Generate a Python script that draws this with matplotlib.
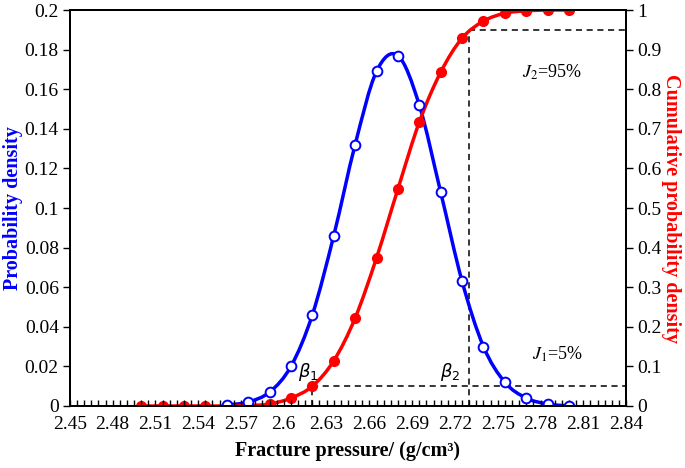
import numpy as np
import matplotlib
matplotlib.use('Agg')
import matplotlib.pyplot as plt
from matplotlib.path import Path
from matplotlib.patches import PathPatch
from matplotlib.ticker import MultipleLocator, FormatStrFormatter

plt.rcParams['font.family'] = ['Liberation Serif', 'DejaVu Sans']

# fracture pressure samples (g/cm3)
x_cdf = [2.50, 2.515, 2.53, 2.545, 2.56, 2.575, 2.59, 2.605, 2.62, 2.635, 2.65,
         2.665, 2.68, 2.695, 2.71, 2.725, 2.74, 2.755, 2.77, 2.785, 2.80]
cdf = [0.0, 0.0, 0.0, 0.0, 0.0, 0.001, 0.005, 0.02, 0.05, 0.114, 0.222,
       0.374, 0.548, 0.717, 0.843, 0.929, 0.972, 0.992, 0.998, 1.0, 1.0]

x_pdf = [2.56, 2.575, 2.59, 2.605, 2.62, 2.635, 2.65, 2.665, 2.68, 2.695, 2.71,
         2.725, 2.74, 2.755, 2.77, 2.785, 2.80]
pdf = [0.0005, 0.002, 0.007, 0.020, 0.046, 0.086, 0.132, 0.169, 0.177, 0.152,
       0.108, 0.063, 0.030, 0.012, 0.004, 0.001, 0.0]

beta1, beta2 = 2.62, 2.73
j1, j2 = 0.05, 0.95
xticks = np.arange(2.45, 2.841, 0.03)

BLUE = '#0000FF'
RED = '#FF0000'


def smooth_path(xs, ys):
    # Excel-like smoothed line: cubic bezier segments through the points
    p = np.column_stack([xs, ys])
    n = len(p)
    verts = [p[0]]
    codes = [Path.MOVETO]
    for i in range(n - 1):
        p0 = p[i - 1] if i > 0 else p[i]
        p3 = p[i + 2] if i + 2 < n else p[i + 1]
        c1 = p[i] + (p[i + 1] - p0) / 6
        c2 = p[i + 1] - (p3 - p[i]) / 6
        verts += [c1, c2, p[i + 1]]
        codes += [Path.CURVE4] * 3
    return Path(verts, codes)


fig = plt.figure(figsize=(6.85, 4.68), dpi=100)
ax1 = fig.add_axes([0.102, 0.1325, 0.812, 0.846])
ax2 = ax1.twinx()
ax1.set_zorder(ax2.get_zorder() + 1)
ax1.patch.set_visible(False)

# blue density line sits under the red curve, its markers on top
ax2.add_patch(PathPatch(smooth_path(x_pdf, pdf), fill=False, edgecolor=BLUE, lw=2.5,
                        transform=ax1.transData, zorder=1.5))

# cumulative curve (right axis)
ax2.add_patch(PathPatch(smooth_path(x_cdf, cdf), fill=False, edgecolor=RED, lw=2.5, zorder=2))
ax2.plot(x_cdf, cdf, 'o', color=RED, ms=7, mec=RED, zorder=2.2)

# dashed guide lines
dash = dict(color='black', lw=1.1, ls=(0, (4, 3)), zorder=1)
ax2.plot([beta1, beta1], [0, j1], **dash)
ax2.plot([beta1, 2.84], [j1, j1], **dash)
ax2.plot([beta2, beta2], [0, j2], **dash)
ax2.plot([beta2, 2.84], [j2, j2], **dash)

ax1.plot(x_pdf, pdf, 'o', color=BLUE, ms=7, mfc='white', mew=1.4)

ax1.set_xlim(2.45, 2.84)
ax1.set_ylim(0, 0.2)
ax2.set_ylim(0, 1)
ax1.set_xticks(xticks)
ax1.xaxis.set_major_formatter(FormatStrFormatter('%g'))
ax1.xaxis.set_minor_locator(MultipleLocator(0.005))
ax1.yaxis.set_major_locator(MultipleLocator(0.02))
ax1.yaxis.set_major_formatter(FormatStrFormatter('%g'))
ax2.yaxis.set_major_locator(MultipleLocator(0.1))
ax2.yaxis.set_major_formatter(FormatStrFormatter('%g'))

ax1.tick_params(axis='x', which='both', direction='in', length=4, width=1, labelsize=14, pad=7)
ax1.tick_params(axis='y', direction='out', length=5, width=1, labelsize=14, pad=3)
ax2.tick_params(axis='y', direction='out', length=5, width=1, labelsize=14, pad=3)
for ax in (ax1, ax2):
    for s in ax.spines.values():
        s.set_linewidth(1.4)

ax1.set_xlabel('Fracture pressure/ (g/cm³)', fontsize=14.5, fontweight='bold', labelpad=6)
ax1.set_ylabel('Probability density', fontsize=14.5, fontweight='bold', color=BLUE, labelpad=1)
ax2.set_ylabel('Cumulative probability density', fontsize=14.5, fontweight='bold',
               color=RED, rotation=270, labelpad=14)

ax2.text(2.617, 0.086, r'$\beta_1$', fontsize=13, ha='center', va='center', math_fontfamily='dejavusans')
ax2.text(2.7166, 0.086, r'$\beta_2$', fontsize=13, ha='center', va='center', math_fontfamily='dejavusans')
ax2.text(2.788, 0.843, r'$J_2$=95%', fontsize=13, ha='center', va='center', math_fontfamily='stix')
ax2.text(2.792, 0.13, r'$J_1$=5%', fontsize=13, ha='center', va='center', math_fontfamily='stix')

fig.savefig('out.png', dpi=100)
